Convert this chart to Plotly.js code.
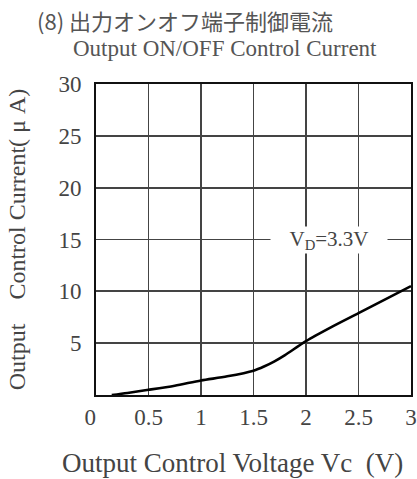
<!DOCTYPE html>
<html><head><meta charset="utf-8">
<script src="https://cdn.plot.ly/plotly-3.0.1.min.js"></script>
<style>html,body{margin:0;padding:0;background:#fff;}#c{width:417px;height:479px;}</style>
</head><body><div id="c"></div>
<script>
const voltage = [0.15, 0.3, 0.5, 0.75, 1.0, 1.25, 1.5, 1.6, 1.7, 1.8, 2.0, 2.25, 2.5, 2.75, 3.0];
const current = [0.0, 0.2, 0.5, 0.9, 1.4, 1.8, 2.35, 2.75, 3.25, 3.85, 5.2, 6.6, 7.9, 9.2, 10.5];
const xTicks = [0, 0.5, 1, 1.5, 2, 2.5, 3];
const xTickLabels = ["0\u2002", "0.5", "1", "1.5", "2", "2.5", "3"];
const yTicks = [5, 10, 15, 20, 25, 30];
const yTickLabels = ["5", "10", "15", "20", "25", "30"];

const serif = "Liberation Serif, DejaVu Serif, serif";
const txt = "#444";
const plotH = 479 - 84 - 84, plotW = 417 - 96 - 6;
Plotly.newPlot("c", [{
  x: voltage, y: current, mode: "lines", type: "scatter",
  line: {color: "#000", width: 2.6, shape: "spline", smoothing: 0.8}, hoverinfo: "none"
}], {
  width: 417, height: 479,
  margin: {l: 96, r: 6, t: 84, b: 84},
  paper_bgcolor: "#fff", plot_bgcolor: "#fff",
  showlegend: false,
  font: {family: serif, color: txt, size: 16},
  xaxis: {
    range: [0, 3], tickvals: xTicks, ticktext: xTickLabels,
    showgrid: true, gridcolor: "#444", gridwidth: 1.8,
    showline: true, linecolor: "#111", linewidth: 2, mirror: true,
    zeroline: false, ticks: "", ticklabelstandoff: 0,
    tickfont: {family: serif, size: 23, color: txt}
  },
  yaxis: {
    range: [0, 30], tickvals: yTicks, ticktext: yTickLabels,
    showgrid: true, gridcolor: "#444", gridwidth: 1.8,
    showline: true, linecolor: "#111", linewidth: 2, mirror: true,
    zeroline: false, ticks: "", ticklabelstandoff: 8,
    tickfont: {family: serif, size: 23, color: txt},
    title: {text: "Output\u00a0\u00a0\u00a0\u00a0Control Current(\u00a0\u03bc\u00a0A)", font: {family: serif, size: 24, color: txt}, standoff: 26}
  },
  annotations: [
    {xref: "paper", yref: "paper", x: (35 - 96) / plotW, y: (395 - 20) / plotH, xanchor: "left", yanchor: "middle",
     text: "(8)\u00a0出力オンオフ端子制御電流", showarrow: false,
     font: {family: "Noto Sans CJK JP, " + serif, size: 22, color: "#555"}},
    {xref: "paper", yref: "paper", x: (225 - 96) / plotW, y: (395 - 48) / plotH, xanchor: "center", yanchor: "middle",
     text: "Output ON/OFF Control Current", showarrow: false,
     font: {family: serif, size: 23, color: "#555"}},
    {xref: "paper", yref: "paper", x: (232 - 96) / plotW, y: (395 - 463) / plotH, xanchor: "center", yanchor: "middle",
     text: "Output Control Voltage Vc\u00a0\u00a0(V)", showarrow: false,
     font: {family: serif, size: 27, color: txt}},
    {xref: "x", yref: "y", x: 2.22, y: 15, xanchor: "center", yanchor: "middle",
     text: "V<sub>D</sub>=3.3V", showarrow: false, bgcolor: "#fff", borderpad: 0,
     font: {family: serif, size: 21, color: txt}, width: 116}
  ]
}, {staticPlot: true});
</script></body></html>
